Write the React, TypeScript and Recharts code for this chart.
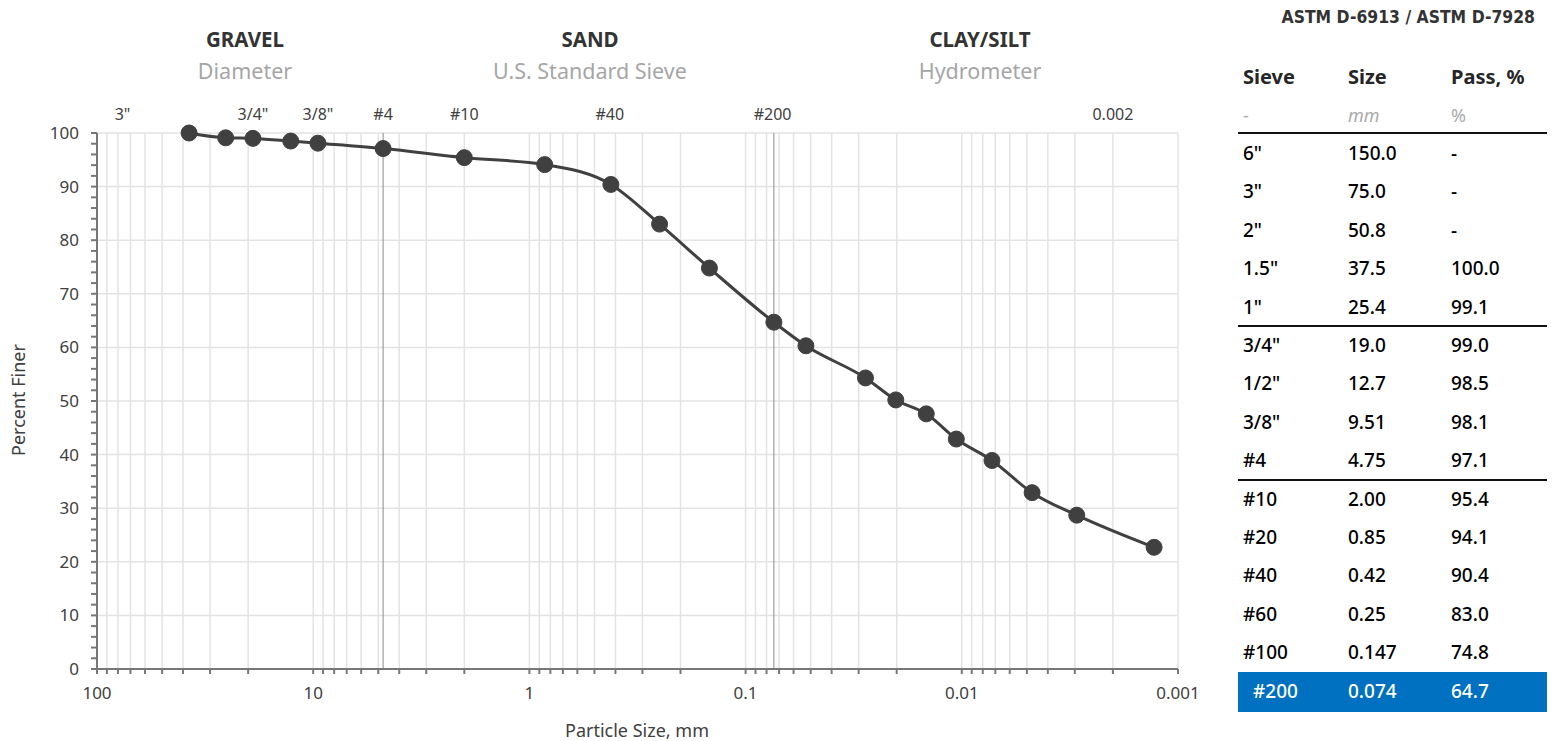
import React from 'react'
import { LineChart, Line, XAxis, YAxis, CartesianGrid, ReferenceLine } from 'recharts'

// sieve analysis (table + chart)
const sieveNames = ['6"', '3"', '2"', '1.5"', '1"', '3/4"', '1/2"', '3/8"', '#4', '#10', '#20', '#40', '#60', '#100', '#200']
const sieveSizes = ['150.0', '75.0', '50.8', '37.5', '25.4', '19.0', '12.7', '9.51', '4.75', '2.00', '0.85', '0.42', '0.25', '0.147', '0.074']
const sievePassing: (number | null)[] = [null, null, null, 100.0, 99.1, 99.0, 98.5, 98.1, 97.1, 95.4, 94.1, 90.4, 83.0, 74.8, 64.7]

// hydrometer readings
const hydroSizes = [0.0526, 0.0279, 0.0202, 0.0146, 0.0106, 0.00725, 0.00473, 0.00294, 0.00129]
const hydroPassing = [60.3, 54.3, 50.2, 47.6, 42.9, 38.9, 32.9, 28.7, 22.7]

const decadeTicks = [100, 10, 1, 0.1, 0.01, 0.001]
const topTickValues = [76.2, 19.0, 9.5, 4.75, 2.0, 0.425, 0.075, 0.002]
const topTickLabels = ['3"', '3/4"', '3/8"', '#4', '#10', '#40', '#200', '0.002']
const yMajor = [0, 10, 20, 30, 40, 50, 60, 70, 80, 90, 100]
const markerLines = [4.75, 0.074]

const soilGroups = ['GRAVEL', 'SAND', 'CLAY/SILT']
const soilMethods = ['Diameter', 'U.S. Standard Sieve', 'Hydrometer']
const groupCenters = [245, 590, 980]

// minor log ticks 2..9 for every decade
const xTicks: number[] = []
decadeTicks.forEach(d => {
  xTicks.push(d)
  if (d > 0.001) for (let k = 2; k <= 9; k++) xTicks.push(+(d / 10 * k).toPrecision(3))
})
const yTicks: number[] = []
for (let v = 0; v <= 100; v += 2) yTicks.push(v)

const data = [
  ...sieveSizes
    .map((s, i) => ({ size: parseFloat(s), pass: sievePassing[i] }))
    .filter(d => d.pass !== null),
  ...hydroSizes.map((s, i) => ({ size: s, pass: hydroPassing[i] })),
]

const FONT = '"Noto Sans", "Open Sans", sans-serif'
const tickStyle = { fill: '#404040', fontSize: 17, fontFamily: FONT }

const Table = () => {
  const rowH = 38.4
  const colX = [5, 110, 213]
  return (
    <div style={{ position: 'absolute', left: 1230, top: 0, width: 312, fontFamily: FONT, color: '#000' }}>
      <div style={{ position: 'absolute', right: 15, top: -4, lineHeight: '26px', fontWeight: 700, fontSize: 17.4, whiteSpace: 'nowrap', fontFamily: '"DejaVu Sans Condensed", ' + FONT, color: '#333' }}>
        ASTM D-6913 / ASTM D-7928
      </div>
      {['Sieve', 'Size', 'Pass, %'].map((t, i) => (
        <div key={t} style={{ position: 'absolute', left: colX[i], top: 55, lineHeight: '28px', fontSize: 20, fontWeight: 700, color: '#262626' }}>{t}</div>
      ))}
      {['-', 'mm', '%'].map((t, i) => (
        <div key={t} style={{ position: 'absolute', left: colX[i], top: 94, lineHeight: '26px', fontSize: 18, color: '#aaa', fontStyle: i === 1 ? 'italic' : 'normal' }}>{t}</div>
      ))}
      <div style={{ position: 'absolute', left: 0, top: 124, width: 312, height: 1.5, background: '#111' }} />
      {sieveNames.map((n, i) => {
        const hl = n === '#200'
        const top = 126 + i * rowH
        const p = sievePassing[i]
        return (
          <div key={n} style={{ position: 'absolute', left: 0, top, width: 312, height: hl ? rowH + 2 : rowH, background: hl ? '#0070c0' : 'transparent', color: hl ? '#fff' : '#000', fontSize: 19, fontWeight: 500 }}>
            {[n, sieveSizes[i], p === null ? '-' : p.toFixed(1)].map((t, j) => (
              <div key={j} style={{ position: 'absolute', left: colX[j] + (hl && j === 0 ? 10 : 0), top: 0, lineHeight: rowH + 'px' }}>{t}</div>
            ))}
            {(n === '1"' || n === '#4') && (
              <div style={{ position: 'absolute', left: 0, bottom: -1, width: 312, height: 1.5, background: '#111' }} />
            )}
          </div>
        )
      })}
    </div>
  )
}

export default function App() {
  return (
    <div style={{ position: 'relative', width: 1539, height: 733, fontFamily: FONT }}>
      <div style={{ position: 'absolute', left: 0, top: 0 }}>
        <LineChart width={1200} height={720} data={data} margin={{ top: 95, right: 30, bottom: 19, left: 29 }}>
          <CartesianGrid stroke="#e3e3e3" strokeWidth={1.5} horizontalValues={yMajor} />
          <XAxis
            dataKey="size"
            type="number"
            scale="log"
            domain={[0.001, 100]}
            reversed
            allowDataOverflow
            ticks={xTicks}
            interval={0}
            height={40}
            tickSize={5}
            tickMargin={13}
            stroke="#777"
            strokeWidth={2}
            tick={tickStyle}
            tickFormatter={(v: number) => (decadeTicks.includes(v) ? String(v) : '')}
          />
          <XAxis
            xAxisId="top"
            orientation="top"
            dataKey="size"
            type="number"
            scale="log"
            domain={[0.001, 100]}
            reversed
            allowDataOverflow
            ticks={topTickValues}
            interval={0}
            height={30}
            axisLine={false}
            tickLine={false}
            tickMargin={7}
            tick={{ ...tickStyle, fontSize: 16 }}
            tickFormatter={(v: number) => topTickLabels[topTickValues.indexOf(v)] ?? ''}
          />
          <YAxis
            type="number"
            domain={[0, 100]}
            ticks={yTicks}
            interval={0}
            width={60}
            tickSize={6}
            tickMargin={12}
            stroke="#777"
            strokeWidth={2}
            tick={tickStyle}
            tickFormatter={(v: number) => (v % 10 === 0 ? String(v) : '')}
          />
          {markerLines.map(x => (
            <ReferenceLine key={x} x={x} stroke="#8c8c8c" strokeWidth={1} />
          ))}
          <Line
            dataKey="pass"
            type="monotone"
            stroke="#404040"
            strokeWidth={3}
            dot={{ r: 8, fill: '#404040', stroke: '#404040', strokeWidth: 1 }}
            isAnimationActive={false}
          />
        </LineChart>
      </div>
      {soilGroups.map((g, i) => (
        <div key={g} style={{ position: 'absolute', left: groupCenters[i] - 150 - 8, width: 300, top: 17, textAlign: 'center', zIndex: 2 }}>
          <div style={{ fontSize: 20.5, fontWeight: 700, color: '#333', lineHeight: '28px' }}>{g}</div>
          <div style={{ fontSize: 21.5, color: '#a6a6a6', lineHeight: '30px', marginTop: 3 }}>{soilMethods[i]}</div>
        </div>
      ))}
      <div style={{ position: 'absolute', left: 18 - 80 - 8, top: 400 - 13 - 8, width: 160, textAlign: 'center', transform: 'rotate(-90deg)', fontSize: 18, color: '#404040', lineHeight: '26px', zIndex: 2 }}>
        Percent Finer
      </div>
      <div style={{ position: 'absolute', left: 637 - 110 - 8, top: 730 - 13 - 8, width: 220, textAlign: 'center', fontSize: 18, color: '#404040', lineHeight: '26px', zIndex: 2 }}>
        Particle Size, mm
      </div>
      <Table />
    </div>
  )
}
